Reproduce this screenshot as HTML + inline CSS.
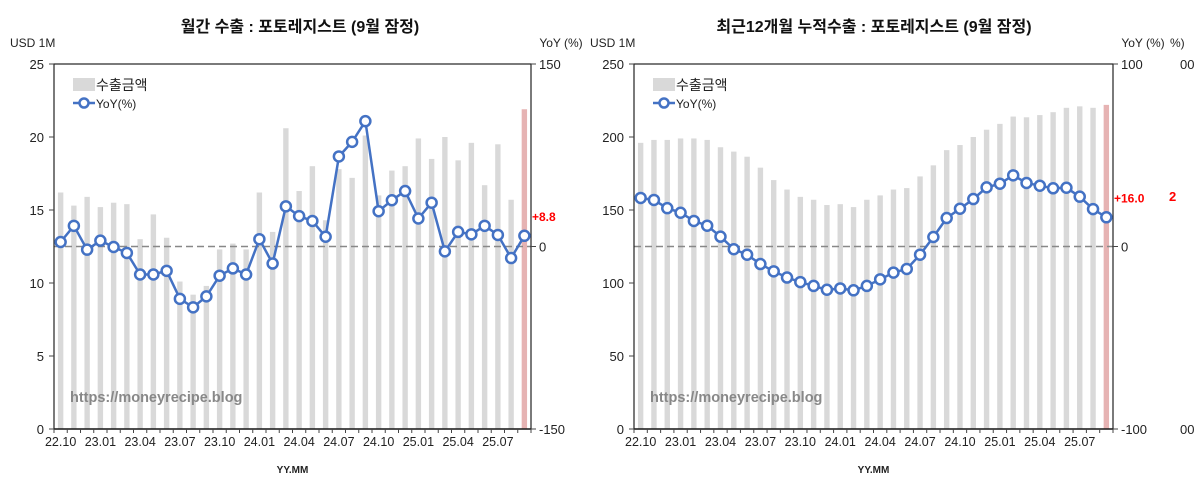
<!DOCTYPE html><html><head><meta charset="utf-8"><style>body{margin:0;background:#fff}svg{display:block}text{font-family:"Liberation Sans","Noto Sans CJK KR",sans-serif}</style></head><body>
<svg id="s" width="1200" height="497" xmlns="http://www.w3.org/2000/svg"></svg>
<script>
const s=document.getElementById('s');let h='';
function chart(o){
 const L=o.L,R=o.R,T=64,B=429,n=36,sp=(R-L)/n;
 const by=v=>B-(v/o.bmax)*(B-T), yy=v=>246.5-v/o.ymax*(B-T)/2;
 h+=`<text x="${o.tx}" y="32" font-size="16" font-weight="bold" text-anchor="middle" fill="#111">${o.title}</text>`;
 h+=`<text x="${L-44}" y="47" font-size="12" fill="#222">USD 1M</text><text x="${R+30}" y="47" font-size="12" fill="#222" text-anchor="middle">YoY (%)</text>`;
 for(let i=0;i<n;i++){const x=L+sp*(i+.5),v=o.bars[i];h+=`<rect x="${x-2.7}" y="${by(v)}" width="5.4" height="${B-by(v)}" fill="${i==n-1?'#e6b3b3':'#d9d9d9'}"/>`;}
 h+=`<line x1="${L}" y1="246.5" x2="${R}" y2="246.5" stroke="#888" stroke-width="1.5" stroke-dasharray="7,4"/>`;
 h+=`<rect x="${L}" y="${T}" width="${R-L}" height="${B-T}" fill="none" stroke="#222" stroke-width="1.2"/>`;
 h+=`<line x1="${L}" y1="${B}" x2="${R}" y2="${B}" stroke="#222" stroke-width="1.5"/>`;
 for(let k=0;k<=5;k++){const v=o.bmax/5*k,y=by(v);h+=`<line x1="${L-5}" y1="${y}" x2="${L}" y2="${y}" stroke="#444"/><text x="${L-10}" y="${y+5}" font-size="13" text-anchor="end" fill="#222">${v}</text>`;}
 [o.ymax,0,-o.ymax].forEach(v=>{const y=yy(v);h+=`<line x1="${R}" y1="${y}" x2="${R+5}" y2="${y}" stroke="#444"/><text x="${R+8}" y="${y+5}" font-size="13" fill="#222">${v}</text>`;});
 for(let i=0;i<=n;i++){const x=L+sp*i;h+=`<line x1="${x}" y1="${B}" x2="${x}" y2="${B+4}" stroke="#444"/>`;}
 const labs=['22.10','23.01','23.04','23.07','23.10','24.01','24.04','24.07','24.10','25.01','25.04','25.07'];
 labs.forEach((l,k)=>{const x=L+sp*(3*k+.5);h+=`<text x="${x}" y="446" font-size="12.5" text-anchor="middle" fill="#222">${l}</text>`;});
 h+=`<text x="${(L+R)/2}" y="473" font-size="10" font-weight="bold" text-anchor="middle" fill="#222">YY.MM</text>`;
 let p=o.yoy.map((v,i)=>`${(L+sp*(i+.5)).toFixed(1)},${yy(v).toFixed(1)}`).join(' ');
 h+=`<polyline points="${p}" fill="none" stroke="#4472c4" stroke-width="2.5"/>`;
 o.yoy.forEach((v,i)=>{h+=`<circle cx="${L+sp*(i+.5)}" cy="${yy(v)}" r="5" fill="#fff" stroke="#4472c4" stroke-width="2.5"/>`;});
 h+=`<text x="${R+1}" y="${yy(o.yoy[35])-15}" font-size="12" font-weight="bold" fill="#f00">${o.lab}</text>`;
 h+=`<rect x="${L+19}" y="78" width="22" height="13" fill="#d9d9d9"/><text x="${L+42}" y="90" font-size="14" fill="#222">수출금액</text>`;
 h+=`<line x1="${L+19}" y1="103" x2="${L+41}" y2="103" stroke="#4472c4" stroke-width="2.5"/><circle cx="${L+30}" cy="103" r="4.5" fill="#fff" stroke="#4472c4" stroke-width="2.5"/><text x="${L+42}" y="108" font-size="12" fill="#222">YoY(%)</text>`;
 h+=`<text x="${L+16}" y="402" font-size="14.5" font-weight="bold" fill="#888">https://moneyrecipe.blog</text>`;
}
chart({L:54,R:531,tx:300,title:'월간 수출 : 포토레지스트 (9월 잠정)',bmax:25,ymax:150,lab:'+8.8',
bars:[16.2,15.3,15.9,15.2,15.5,15.4,13.0,14.7,13.1,10.1,9.2,9.8,12.3,12.7,12.3,16.2,13.5,20.6,16.3,18.0,14.3,17.8,17.2,20.1,16.0,17.7,18.0,19.9,18.5,20.0,18.4,19.6,16.7,19.5,15.7,21.9],
yoy:[3.7,17,-2.6,4.8,-0.4,-5.3,-23,-23,-20,-43,-50,-41,-24,-18,-23,6,-14,33,25,21,8,74,86,103,29,38,45.6,23,36,-4,12,10,17,9.5,-9.5,8.8]});
chart({L:634,R:1113,tx:874,title:'최근12개월 누적수출 : 포토레지스트 (9월 잠정)',bmax:250,ymax:100,lab:'+16.0',
bars:[196,198,198,199,199,198,193,190,186.5,179,170.5,164,159,157,153.4,154,152,157,160,164,165,173,180.6,191,194.5,200,205,209,214,213.5,215,217,220,221,220,222],
yoy:[26.6,25.5,21,18.5,14,11.4,5.4,-1.5,-4.5,-9.6,-13.6,-17,-19.5,-21.6,-23.7,-23,-24,-21.6,-18,-14.3,-12.3,-4.5,5.2,15.6,20.7,26,32.4,34.4,39,34.8,33.3,31.9,32.2,27.3,20.5,16]});
h+=`<text x="1170" y="47" font-size="12" fill="#222">%)</text><text x="1180" y="69" font-size="13" fill="#222">00</text><text x="1180" y="434" font-size="13" fill="#222">00</text><text x="1169" y="201" font-size="13" font-weight="bold" fill="#f00">2</text>`;
s.innerHTML=h;
</script></body></html>
